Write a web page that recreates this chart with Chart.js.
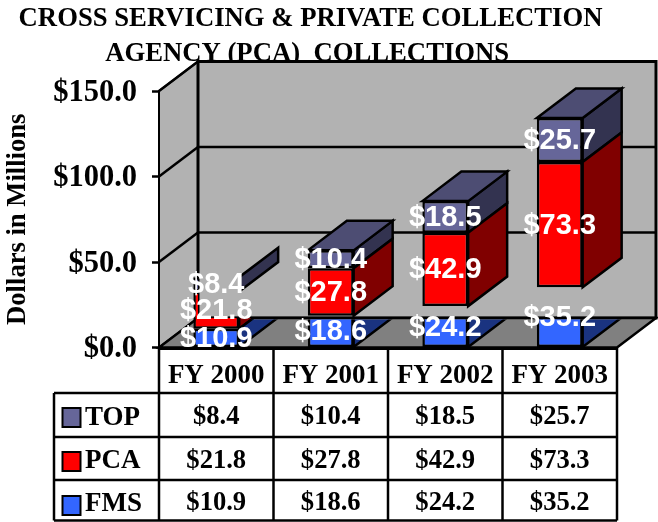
<!DOCTYPE html>
<html>
<head>
<meta charset="utf-8">
<style>html,body{margin:0;padding:0;background:#fff}canvas{display:block}</style>
<script src="https://cdn.jsdelivr.net/npm/chart.js@4"></script>
</head>
<body>
<canvas id="c" width="658" height="522"></canvas>
<script>
const categories = ['FY 2000', 'FY 2001', 'FY 2002', 'FY 2003'];
const fmsValues = [10.9, 18.6, 24.2, 35.2];
const pcaValues = [21.8, 27.8, 42.9, 73.3];
const topValues = [8.4, 10.4, 18.5, 25.7];
const titleLines = ['CROSS SERVICING & PRIVATE COLLECTION', 'AGENCY (PCA)  COLLECTIONS '];
const yAxisTitle = 'Dollars in Millions';

const SERIF = '"Liberation Serif", serif';
const SANS = '"Liberation Sans", sans-serif';
const DX = 39, DY = -29.5;
const money = v => '$' + Number(v).toFixed(1);
const shades = {
  FMS: {side: '#1A3380', top: '#264DBF'},
  PCA: {side: '#800000', top: '#BF0000'},
  TOP: {side: '#333350', top: '#4D4D73'}
};

function poly(ctx, pts, fill, lw) {
  ctx.beginPath();
  pts.forEach((p, i) => i ? ctx.lineTo(p[0], p[1]) : ctx.moveTo(p[0], p[1]));
  ctx.closePath();
  if (fill) { ctx.fillStyle = fill; ctx.fill(); }
  ctx.lineWidth = lw; ctx.strokeStyle = '#000'; ctx.lineJoin = 'miter'; ctx.stroke();
}
function line(ctx, x1, y1, x2, y2, lw) {
  ctx.beginPath(); ctx.moveTo(x1, y1); ctx.lineTo(x2, y2);
  ctx.lineWidth = lw; ctx.strokeStyle = '#000'; ctx.stroke();
}

const scene = {
  id: 'scene',
  afterLayout(chart) {
    const t = chart.titleBlock;
    t.left = 0; t.right = 621;
    const l = chart.legend;
    l.left = 45; l.right = 160; l.top = 388.5; l.bottom = 560;
    l.width = 115; l.height = 172;
  },
  beforeDatasetsDraw(chart) {
    const ctx = chart.ctx, {x, y} = chart.scales;
    const L = x.left, R = x.right, B = y.bottom, T = y.top;
    ctx.save();
    poly(ctx, [[L, B], [L, T], [L + DX, T + DY], [L + DX, B + DY]], '#B2B2B2', 2);
    poly(ctx, [[L + DX, T + DY], [R + DX, T + DY], [R + DX, B + DY], [L + DX, B + DY]], '#B2B2B2', 3);
    poly(ctx, [[L, B], [R, B], [R + DX, B + DY], [L + DX, B + DY]], '#808080', 2.5);
    y.ticks.forEach(tk => {
      const py = y.getPixelForValue(tk.value);
      if (tk.value > 0) {
        line(ctx, L, py, L + DX, py + DY, 2.5);
        line(ctx, L + DX, py + DY, R + DX, py + DY, 2.5);
      }
    });
    ctx.restore();
  },
  beforeDatasetDraw(chart, args) {
    const ctx = chart.ctx, {x, y} = chart.scales;
    const name = chart.data.datasets[args.index].label;
    const floorBack = y.bottom + DY;
    const wallLeft = x.left + DX;
    ctx.save();
    ctx.beginPath();
    if (name === 'FMS') {
      ctx.rect(0, floorBack + 1.5, chart.width, chart.height);
      ctx.clip();
    } else {
      const first = args.meta.data[0];
      const hideTo = first.x + first.width / 2 + (name === 'PCA' ? DX + 3 : 1);
      ctx.rect(0, 0, chart.width, chart.height);
      ctx.rect(wallLeft, y.top + DY, hideTo - wallLeft, y.bottom + DY - (y.top + DY));
      ctx.clip('evenodd');
    }
    args.meta.data.forEach((el, i) => {
      const xr = el.x + el.width / 2, xl = el.x - el.width / 2;
      poly(ctx, [[xr, el.base], [xr, el.y], [xr + DX, el.y + DY], [xr + DX, el.base + DY]], shades[name].side, 2.5);
      if (name === 'TOP' && i > 0) {
        poly(ctx, [[xl, el.y], [xl + DX, el.y + DY], [xr + DX, el.y + DY], [xr, el.y]], shades[name].top, 2.5);
      }
    });
  },
  afterDatasetDraw(chart) {
    chart.ctx.restore();
  },
  afterDatasetsDraw(chart) {
    const ctx = chart.ctx;
    ctx.save();
    ctx.fillStyle = '#fff';
    ctx.font = 'bold 29px ' + SANS;
    ctx.textAlign = 'center';
    ctx.textBaseline = 'middle';
    chart.data.datasets.forEach((ds, d) => {
      chart.getDatasetMeta(d).data.forEach((el, i) => {
        ctx.fillText(money(ds.data[i]), el.x, (el.y + el.base) / 2 + 1);
      });
    });
    ctx.restore();
  },
  afterDraw(chart) {
    const ctx = chart.ctx, {x, y} = chart.scales;
    const L = x.left, R = x.right, B = y.bottom;
    const rows = [393, 437, 480, 520.5], tableLeft = 54;
    const step = (R - L) / categories.length;
    ctx.save();
    line(ctx, L, B + 1, R, B + 1, 3);
    for (let k = 0; k <= categories.length; k++) {
      line(ctx, L + k * step, B, L + k * step, rows[3], 2.5);
    }
    rows.forEach(r => line(ctx, tableLeft, r, R, r, 2.5));
    line(ctx, tableLeft, rows[0], tableLeft, rows[3], 2.5);

    const series = [...chart.data.datasets].reverse();
    ctx.font = 'bold 26.6px ' + SERIF;
    ctx.textAlign = 'center';
    ctx.textBaseline = 'middle';
    series.forEach((ds, r) => {
      const cy = rows[r] + (r === 2 ? 23 : 24);
      ctx.fillStyle = '#000';
      ds.data.forEach((v, i) => ctx.fillText(money(v), x.getPixelForTick(i), cy));
      const ky = [408, 452, 496][r];
      ctx.fillStyle = ds.backgroundColor;
      ctx.fillRect(62.5, ky, 18, 19);
      ctx.lineWidth = 2; ctx.strokeStyle = '#000';
      ctx.strokeRect(62.5, ky, 18, 19);
    });
    ctx.restore();
  }
};

new Chart(document.getElementById('c'), {
  type: 'bar',
  plugins: [scene],
  data: {
    labels: categories,
    datasets: [
      {label: 'FMS', data: fmsValues, backgroundColor: '#3366FF'},
      {label: 'PCA', data: pcaValues, backgroundColor: '#FF0000'},
      {label: 'TOP', data: topValues, backgroundColor: '#666699'}
    ]
  },
  options: {
    responsive: false,
    animation: false,
    events: [],
    layout: {padding: {left: 0, right: 41, top: 0, bottom: 0}},
    datasets: {bar: {
      borderColor: '#000', borderWidth: 2.5, borderSkipped: false,
      barPercentage: 1, categoryPercentage: 0.4
    }},
    plugins: {
      tooltip: {enabled: false},
      title: {
        display: true, text: titleLines, color: '#000',
        font: {family: SERIF, weight: 'bold', size: 26.7, lineHeight: 35 / 26.7},
        padding: {top: 1.5, bottom: 19.5}
      },
      legend: {
        display: true, position: 'chartArea', align: 'start',
        labels: {
          color: '#000', boxWidth: 10.5, padding: 16,
          font: {family: SERIF, weight: 'bold', size: 27},
          generateLabels(chart) {
            return chart.data.datasets.map((ds, i) => ({
              text: ds.label, datasetIndex: i,
              fillStyle: 'rgba(0,0,0,0)', strokeStyle: 'rgba(0,0,0,0)', lineWidth: 0, fontColor: '#000'
            })).reverse();
          }
        }
      }
    },
    scales: {
      x: {
        stacked: true,
        afterFit(s) { s.height = 174.5; },
        grid: {display: false},
        border: {display: false},
        ticks: {color: '#000', padding: 4, maxRotation: 0, autoSkip: false,
          font: {family: SERIF, weight: 'bold', size: 27}}
      },
      y: {
        stacked: true, min: 0, max: 150,
        afterFit(s) { s.width = 159; },
        grid: {drawOnChartArea: false, drawTicks: true, tickLength: 7, tickWidth: 2.5, tickColor: '#000'},
        border: {display: true, color: '#000', width: 2},
        title: {display: true, text: yAxisTitle, color: '#000', padding: {top: 2, bottom: 0},
          font: {family: SERIF, weight: 'bold', size: 26.6}},
        ticks: {color: '#000', stepSize: 50, padding: 15, labelOffset: 2, callback: v => money(v),
          font: {family: SERIF, weight: 'bold', size: 30.5}}
      }
    }
  }
});
</script>
</body>
</html>
